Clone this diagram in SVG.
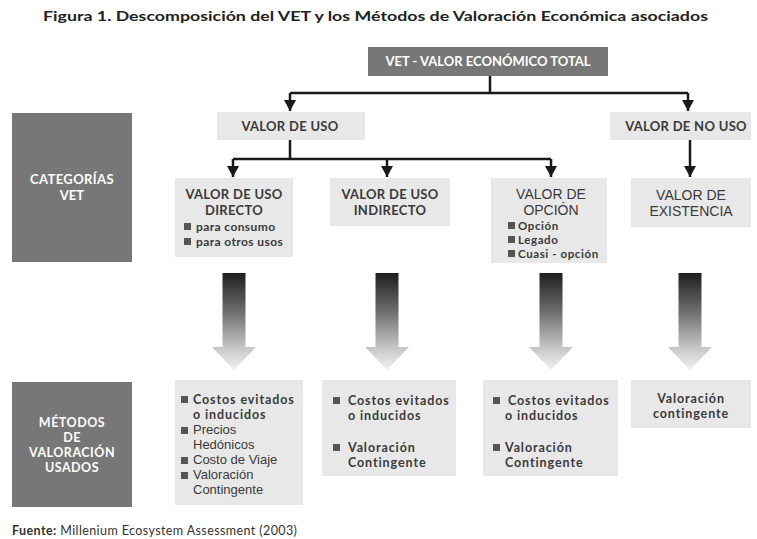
<svg xmlns="http://www.w3.org/2000/svg" width="757" height="539" viewBox="0 0 757 539">
<defs>
<style>
.bg{fill:#ffffff}
.dark{fill:#777777}
.light{fill:#e8e8e8}
.title{font-family:Lato,"Open Sans",sans-serif;font-weight:700;font-size:14px;fill:#222}
.wt{font-family:Lato,"Open Sans",sans-serif;font-weight:700;font-size:13px;fill:#ffffff}
.wt2{font-family:Lato,"Open Sans",sans-serif;font-weight:700;font-size:12.5px;fill:#ffffff;letter-spacing:0.5px}
.lb{font-family:Lato,"Open Sans",sans-serif;font-weight:700;font-size:13px;fill:#3a3a3a;letter-spacing:0.3px}
.la{font-family:"Liberation Sans",Arial,sans-serif;font-size:14px;fill:#3a3a3a}
.sm{font-family:Lato,"Open Sans",sans-serif;font-weight:700;font-size:12px;fill:#3a3a3a;letter-spacing:0.4px}
.sm2{font-family:Lato,"Open Sans",sans-serif;font-weight:700;font-size:11.5px;fill:#3a3a3a;letter-spacing:0.6px}
.sa{font-family:"Liberation Sans",Arial,sans-serif;font-size:13px;fill:#3a3a3a}
.mt{font-family:Lato,"Open Sans",sans-serif;font-weight:700;font-size:12.5px;fill:#3a3a3a;letter-spacing:0.9px}
.src{font-family:Lato,"Open Sans",sans-serif;font-size:12.5px;fill:#333;letter-spacing:0.4px}
.bul{fill:#555555}
.con{fill:none;stroke:#1a1a1a;stroke-width:2.5}
.big{fill:url(#grad)}
</style>
<marker id="ah" markerUnits="userSpaceOnUse" markerWidth="13" markerHeight="12" refX="11" refY="6" orient="auto">
<path d="M0,0 L11,6 L0,12 z" fill="#1a1a1a"/>
</marker>
<linearGradient id="grad" x1="0" y1="0" x2="0" y2="1">
<stop offset="0" stop-color="#1e1e1e"/>
<stop offset="0.4" stop-color="#6e6e6e"/>
<stop offset="0.76" stop-color="#c4c4c4"/>
<stop offset="1" stop-color="#f2f2f2"/>
</linearGradient>
<path id="bigArrow" d="M-11.5,0 H11.5 V74 H22 L0,97 L-22,74 H-11.5 Z"/>
</defs>
<rect class="bg" x="0" y="0" width="757" height="539"/>

<text class="title" x="43" y="21" textLength="665" lengthAdjust="spacingAndGlyphs">Figura 1.  Descomposición del VET y los Métodos de Valoración Económica asociados</text>

<g id="vet">
<rect class="dark" x="368" y="47" width="240" height="29"/>
<text class="wt" x="488" y="66" text-anchor="middle">VET - VALOR ECONÓMICO TOTAL</text>
</g>

<g id="valor-uso">
<rect class="light" x="217" y="112" width="148" height="28"/>
<text class="lb" x="290" y="131" text-anchor="middle">VALOR DE USO</text>
</g>

<g id="valor-no-uso">
<rect class="light" x="610" y="112" width="141" height="28"/>
<text class="lb" x="686" y="131" text-anchor="middle">VALOR DE NO USO</text>
</g>

<g id="categorias">
<rect class="dark" x="12" y="113" width="120" height="149"/>
<text class="wt" x="72" y="184" text-anchor="middle" letter-spacing="0.4">CATEGORÍAS</text>
<text class="wt" x="72" y="200" text-anchor="middle">VET</text>
</g>

<g id="uso-directo">
<rect class="light" x="175" y="178" width="118" height="79"/>
<text class="lb" x="234" y="199" text-anchor="middle">VALOR DE USO</text>
<text class="lb" x="234" y="215" text-anchor="middle">DIRECTO</text>
<rect class="bul" x="184" y="223" width="7" height="7"/>
<text class="sm" x="196" y="231">para consumo</text>
<rect class="bul" x="184" y="238" width="7" height="7"/>
<text class="sm" x="196" y="246">para otros usos</text>
</g>

<g id="uso-indirecto">
<rect class="light" x="330" y="178" width="120" height="48"/>
<text class="lb" x="390" y="199" text-anchor="middle">VALOR DE USO</text>
<text class="lb" x="390" y="215" text-anchor="middle">INDIRECTO</text>
</g>

<g id="opcion">
<rect class="light" x="491" y="178" width="116" height="85"/>
<text class="la" x="551" y="199" text-anchor="middle">VALOR DE</text>
<text class="la" x="551" y="215" text-anchor="middle">OPCIÓN</text>
<rect class="bul" x="508" y="222" width="7" height="7"/>
<text class="sm2" x="518" y="230">Opción</text>
<rect class="bul" x="508" y="236" width="7" height="7"/>
<text class="sm2" x="518" y="244">Legado</text>
<rect class="bul" x="508" y="250" width="7" height="7"/>
<text class="sm2" x="518" y="258">Cuasi - opción</text>
</g>

<g id="existencia">
<rect class="light" x="631" y="178" width="120" height="49"/>
<text class="la" x="691" y="200" text-anchor="middle">VALOR DE</text>
<text class="la" x="691" y="216" text-anchor="middle">EXISTENCIA</text>
</g>

<g id="metodos">
<rect class="dark" x="12" y="382" width="120" height="125"/>
<text class="wt2" x="72" y="427" text-anchor="middle">MÉTODOS</text>
<text class="wt2" x="72" y="442" text-anchor="middle">DE</text>
<text class="wt2" x="72" y="457" text-anchor="middle">VALORACIÓN</text>
<text class="wt2" x="72" y="472" text-anchor="middle">USADOS</text>
</g>

<g id="metodos-directo">
<rect class="light" x="175" y="380" width="128" height="125"/>
<rect class="bul" x="181" y="396" width="7" height="7"/>
<text class="mt" x="193" y="404">Costos evitados</text>
<text class="mt" x="193" y="419">o inducidos</text>
<rect class="bul" x="181" y="427" width="7" height="7"/>
<text class="sa" x="193" y="434">Precios</text>
<text class="sa" x="193" y="449">Hedónicos</text>
<rect class="bul" x="181" y="457" width="7" height="7"/>
<text class="sa" x="193" y="464">Costo de Viaje</text>
<rect class="bul" x="181" y="472" width="7" height="7"/>
<text class="sa" x="193" y="479">Valoración</text>
<text class="sa" x="193" y="494">Contingente</text>
</g>

<g id="metodos-indirecto">
<rect class="light" x="322" y="380" width="134" height="96"/>
<rect class="bul" x="333" y="397" width="7" height="7"/>
<text class="mt" x="348" y="405">Costos evitados</text>
<text class="mt" x="348" y="420">o inducidos</text>
<rect class="bul" x="333" y="444" width="7" height="7"/>
<text class="mt" x="348" y="452">Valoración</text>
<text class="mt" x="348" y="467">Contingente</text>
</g>

<g id="metodos-opcion">
<rect class="light" x="483" y="380" width="135" height="96"/>
<rect class="bul" x="493" y="397" width="7" height="7"/>
<text class="mt" x="508" y="405">Costos evitados</text>
<text class="mt" x="505" y="420">o inducidos</text>
<rect class="bul" x="493" y="444" width="7" height="7"/>
<text class="mt" x="505" y="452">Valoración</text>
<text class="mt" x="505" y="467">Contingente</text>
</g>

<g id="metodos-existencia">
<rect class="light" x="631" y="380" width="120" height="48"/>
<text class="mt" x="691" y="403" text-anchor="middle">Valoración</text>
<text class="mt" x="691" y="418" text-anchor="middle">contingente</text>
</g>

<g id="connectors">
<path class="con" d="M490,76 V93"/>
<path class="con" d="M290,93 H688"/>
<path class="con" d="M290,93 V111" marker-end="url(#ah)"/>
<path class="con" d="M688,93 V111" marker-end="url(#ah)"/>
<path class="con" d="M290,140 V159"/>
<path class="con" d="M233,159 H551"/>
<path class="con" d="M233,159 V177" marker-end="url(#ah)"/>
<path class="con" d="M387,159 V177" marker-end="url(#ah)"/>
<path class="con" d="M551,159 V177" marker-end="url(#ah)"/>
<path class="con" d="M690,140 V177" marker-end="url(#ah)"/>
<use class="big" href="#bigArrow" x="234" y="273"/>
<use class="big" href="#bigArrow" x="387" y="273"/>
<use class="big" href="#bigArrow" x="551" y="273"/>
<use class="big" href="#bigArrow" x="690" y="273"/>
</g>

<text class="src" x="12" y="535"><tspan font-weight="700">Fuente:</tspan> Millenium Ecosystem Assessment (2003)</text>
</svg>
